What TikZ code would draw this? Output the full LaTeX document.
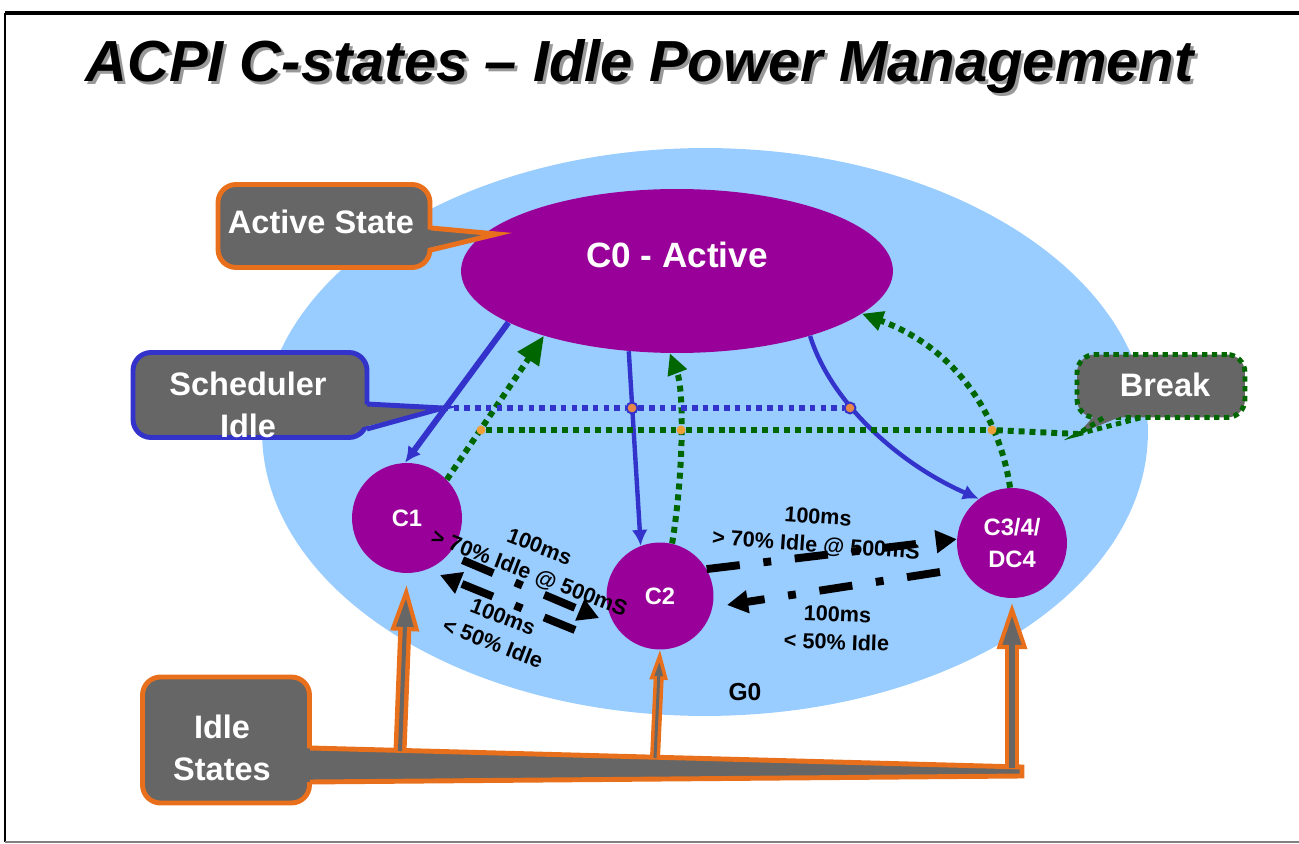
\documentclass[tikz,border=0pt]{standalone}
\usepackage{fontspec}
\setmainfont{Liberation Sans}
\setsansfont{Liberation Sans}
\usetikzlibrary{shapes.geometric,arrows.meta,positioning}
\definecolor{g0blue}{RGB}{153,204,255}
\definecolor{cpurple}{RGB}{153,0,153}
\definecolor{callgray}{RGB}{102,102,102}
\definecolor{callorange}{RGB}{232,112,28}
\definecolor{schedblue}{RGB}{51,51,204}
\definecolor{breakgreen}{RGB}{0,102,0}
\definecolor{markorange}{RGB}{232,136,72}
\newcommand{\acpititle}{\fontsize{33}{38}\selectfont\bfseries\itshape}
\newcommand{\callfont}{\fontsize{18.5}{23.5}\selectfont\bfseries}
\tikzstyle{state} = [circle, fill=cpurple, text=white, font=\fontsize{13.5}{18}\selectfont\bfseries, align=center, inner sep=0pt]
\tikzstyle{callbox} = [rectangle, rounded corners=0.36cm, fill=callgray, line width=2.8pt]
\tikzstyle{calltext} = [text=white, font=\callfont, align=center, inner sep=0pt]
\tikzstyle{lbl} = [font=\fontsize{12.3}{16}\selectfont\bfseries, align=center, inner sep=0pt]
\tikzstyle{sched} = [schedblue, line width=2.5pt, -{Latex[length=9pt,width=9pt]}]
\tikzstyle{schedline} = [schedblue, line width=3.1pt, dash pattern=on 3.1pt off 3pt]
\tikzstyle{brk} = [breakgreen, line width=3.4pt, dash pattern=on 3.4pt off 2.8pt, -{Triangle[length=12pt,width=11pt]}]
\tikzstyle{brkline} = [breakgreen, line width=3.4pt, dash pattern=on 3.4pt off 2.8pt]
\tikzstyle{timer} = [black, line width=4.5pt, dash pattern=on 19pt off 13.5pt on 4.5pt off 13.5pt, -{Triangle[length=12pt,width=12.5pt]}]
\tikzstyle{schedmark} = [circle, draw=schedblue, line width=1.1pt, fill=markorange, inner sep=0pt, minimum size=0.22cm]
\tikzstyle{breakmark} = [circle, fill=markorange!80!yellow, inner sep=0pt, minimum size=0.18cm]

\begin{document}
\begin{tikzpicture}[x=0.02cm, y=-0.02cm]
    \useasboundingbox (0,0) rectangle (1299,844);
    % frame and title
    \draw[line width=2.8pt] (5,13) -- (1299,13);
    \draw[line width=1.7pt] (5,13) -- (5,842);
    \draw[gray, line width=1.1pt] (5,842) -- (1299,842);
    \node (titleshadow)[anchor=base west, text=black!40, font=\acpititle, inner sep=0pt] at (88,85) {ACPI C-states – Idle Power Management};
    \node (title)[anchor=base west, font=\acpititle, inner sep=0pt] at (85,82) {ACPI C-states – Idle Power Management};
    % create the nodes
    \node (g0area)[ellipse, fill=g0blue, minimum width=17.72cm, minimum height=11.36cm] at (705,432) {};
    \node (c0)[ellipse, fill=cpurple, minimum width=8.64cm, minimum height=3.28cm] at (677,271) {};
    \node (c0text)[text=white, font=\fontsize{20}{24}\selectfont\bfseries, inner sep=0pt] at (677,255) {C0 - Active};
    \node (c1)[state, minimum size=2.2cm] at (407,518) {C1};
    \node (c2)[state, minimum size=2.14cm] at (660,596) {C2};
    \node (c3)[state, minimum size=2.2cm] at (1012,543) {C3/4/\\DC4};
    \node (g0)[font=\fontsize{14}{16}\selectfont\bfseries, inner sep=0pt] at (745,692) {G0};
    % connect the nodes
    \draw[sched, line width=3.4pt] (c0.197) -- (c1.92);
    \draw[sched] (c0.239) -- (c2.111);
    \draw[sched] (c0.334) .. controls (830,400) and (895,462) .. (c3.127);
    \draw[brk, -{Triangle[length=16pt,width=14pt]}] (c1.44) -- (c0.206);
    \draw[brk] (c2.77) .. controls (684,470) and (684,390) .. (c0.265);
    \draw[brk] (c3.92) .. controls (1000,420) and (960,350) .. (c0.347);
    % scheduler idle and break lines
    \coordinate (schedtip) at (443,408);
    \coordinate (brktip) at (1078,434);
    \node (sm1)[schedmark] at (632,408) {};
    \node (sm2)[schedmark] at (850,408) {};
    \node (bm1)[breakmark] at (481,430) {};
    \node (bm2)[breakmark] at (681,430) {};
    \node (bm3)[breakmark] at (992,430) {};
    \draw[schedline] (schedtip) -- (sm1);
    \draw[schedline] (sm1) -- (sm2);
    \draw[brkline] (bm1) -- (bm2);
    \draw[brkline] (bm2) -- (bm3);
    \draw[brkline] (bm3) -- (brktip);
    % timer transitions
    \coordinate (t21s) at (575,630);
    \coordinate (t21e) at (440,575);
    \coordinate (t32s) at (940,572);
    \coordinate (t32e) at (727,605);
    \draw[timer, shorten <=0.3cm, shorten >=0.33cm] (c1.-41) -- (c2.212);
    \draw[timer] (t21s) -- (t21e);
    \draw[timer] (c2.30) -- (c3.176);
    \draw[timer] (t32s) -- (t32e);
    \node (l12)[lbl, rotate=-21] at (534,561) {100ms\\> 70\% Idle @ 500mS};
    \node (l21)[lbl, rotate=-21] at (498,630) {100ms\\< 50\% Idle};
    \node (l23)[lbl, rotate=-4] at (817,532) {100ms\\> 70\% Idle @ 500mS};
    \node (l32)[lbl, rotate=-2] at (837,628) {100ms\\< 50\% Idle};
    % callouts
    \node (actbox)[callbox, draw=callorange, minimum width=4.24cm, minimum height=1.66cm] at (324,226) {};
    \fill[callgray] (418,229) -- (497,234) -- (418,250) -- cycle;
    \draw[callorange, line width=2.8pt] (431,228) -- (497,234) -- (431,250);
    \node (acttext)[calltext] at (321,222) {Active State};
    \node (schedbox)[callbox, draw=schedblue, minimum width=4.68cm, minimum height=1.7cm] at (250,395) {};
    \fill[callgray] (355,404) -- (schedtip) -- (355,429) -- cycle;
    \draw[schedblue, line width=2.8pt] (367,404) -- (schedtip) -- (367,429);
    \node (schedtext)[calltext] at (248,405) {Scheduler\\Idle};
    \node (brkbox)[callbox, draw=breakgreen, dash pattern=on 3pt off 2.6pt, minimum width=3.36cm, minimum height=1.26cm] at (1161,386) {};
    \fill[callgray] (1101,408) -- (brktip) -- (1142,408) -- cycle;
    \draw[breakgreen, line width=2.8pt, dash pattern=on 3pt off 2.6pt] (1103,418) -- (brktip) -- (1140,418);
    \node (brktext)[calltext] at (1165,385) {Break};
    \node (idlebox)[callbox, draw=callorange, minimum width=3.34cm, minimum height=2.52cm] at (226,740) {};
    \fill[callgray] (298,748) -- (1022,767) -- (1022,776) -- (298,782) -- cycle;
    \draw[callorange, line width=2.8pt] (310,748) -- (1022,767) -- (1022,776) -- (310,782);
    \node (idletext)[calltext] at (222,748) {Idle\\States};
    % idle state arrows
    \coordinate (up1) at (400,751);
    \coordinate (up2) at (655,758);
    \coordinate (up3) at (1012,768);
    \draw[callorange, line width=7.4pt, shorten >=0.24cm, -{Triangle[fill=callgray, line width=2.3pt, length=26pt, width=16pt]}] (up1) -- (c1.south);
    \draw[callgray, line width=2.3pt, shorten >=0.24cm+16pt] (up1) -- (c1.south);
    \draw[callorange, line width=5.7pt, -{Triangle[fill=callgray, line width=2pt, length=17pt, width=10pt]}] (up2) -- (c2.south);
    \draw[callgray, line width=1.7pt, shorten >=10pt] (up2) -- (c2.south);
    \draw[callorange, line width=8.5pt, shorten >=0.1cm, -{Triangle[fill=callgray, line width=2.3pt, length=26pt, width=17pt]}] (up3) -- (c3.south);
    \draw[callgray, line width=3.4pt, shorten >=0.1cm+16pt] (up3) -- (c3.south);
\end{tikzpicture}
\end{document}
